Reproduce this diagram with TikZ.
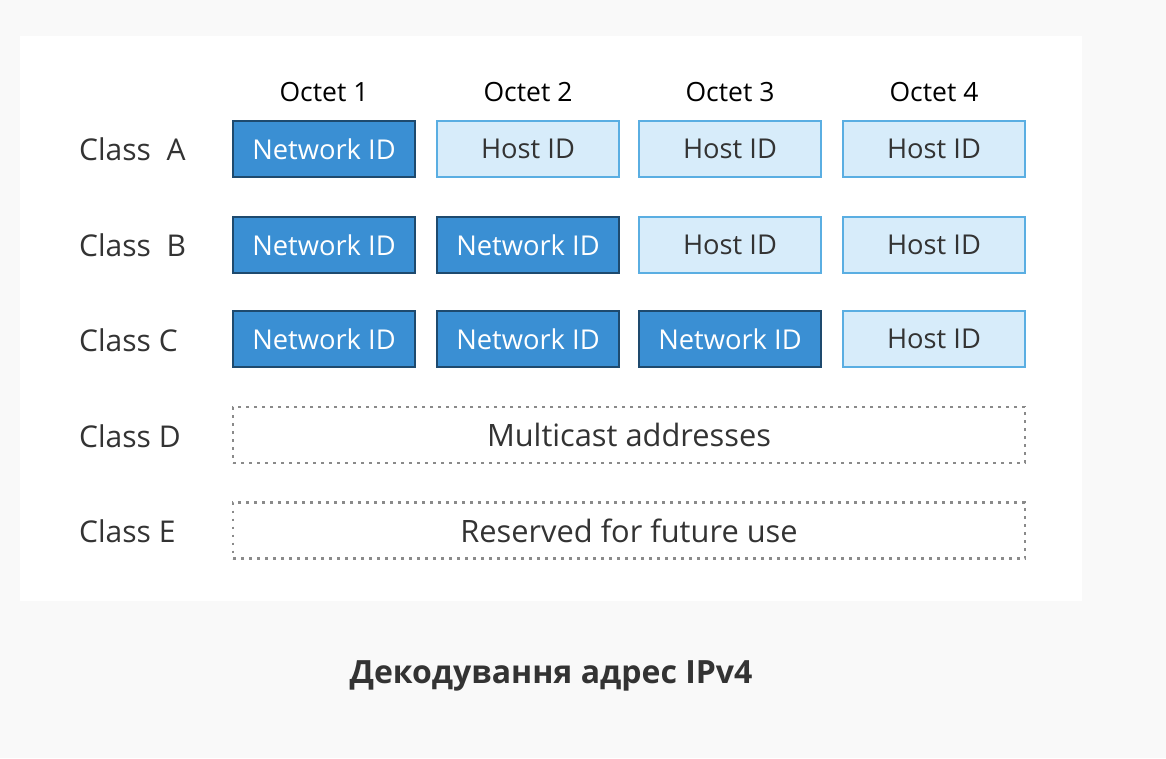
\documentclass[tikz,border=0pt]{standalone}
\usepackage{fontspec}
\setmainfont{Open Sans}
\definecolor{pagebg}{HTML}{F9F9F9}
\definecolor{netfill}{HTML}{3A8FD3}
\definecolor{netdraw}{HTML}{1E4A6E}
\definecolor{hostfill}{HTML}{D7ECFA}
\definecolor{hostdraw}{HTML}{5AAEE2}
\definecolor{txt}{HTML}{333333}
\definecolor{dotc}{HTML}{8A8A8A}
\begin{document}
\begin{tikzpicture}[x=1pt,y=-1pt,
  cell/.style={minimum width=182pt,minimum height=56pt,inner sep=0pt,font=\fontsize{27.3}{32}\selectfont,line width=1.6pt},
  net/.style={cell,fill=netfill,draw=netdraw,text=white},
  host/.style={cell,fill=hostfill,draw=hostdraw,text=txt},
  wide/.style={minimum width=792pt,minimum height=56pt,inner sep=0pt,draw=dotc,line width=2.6pt,dash pattern=on 2.6pt off 5.4pt,text=txt,font=\fontsize{30.8}{36}\selectfont},
  cls/.style={anchor=west,text=txt,font=\fontsize{30}{36}\selectfont,inner sep=0pt},
  oct/.style={text=black,font=\fontsize{26.5}{32}\selectfont,inner sep=0pt}]
\fill[pagebg] (0,0) rectangle (1166,758);
\useasboundingbox (0,0) rectangle (1166,758);
\fill[white] (20,36) rectangle (1082,601);
% octet headers
\node[oct] (o1) at (324,92) {Octet 1};
\node[oct] (o2) at (528,92) {Octet 2};
\node[oct] (o3) at (730,92) {Octet 3};
\node[oct] (o4) at (934,92) {Octet 4};
% class labels
\node[cls] (la) at (79,149) {Class\ \ A};
\node[cls] (lb) at (79,245) {Class\ \ B};
\node[cls] (lc) at (79,340) {Class C};
\node[cls] (ld) at (79,436) {Class D};
\node[cls] (le) at (79,531) {Class E};
% row A
\node[net]  (a1) at (324,149) {Network ID};
\node[host] (a2) at (528,149) {Host ID};
\node[host] (a3) at (730,149) {Host ID};
\node[host] (a4) at (934,149) {Host ID};
% row B
\node[net]  (b1) at (324,245) {Network ID};
\node[net]  (b2) at (528,245) {Network ID};
\node[host] (b3) at (730,245) {Host ID};
\node[host] (b4) at (934,245) {Host ID};
% row C
\node[net]  (c1) at (324,339) {Network ID};
\node[net]  (c2) at (528,339) {Network ID};
\node[net]  (c3) at (730,339) {Network ID};
\node[host] (c4) at (934,339) {Host ID};
% rows D, E
\node[wide] (d) at (629,435) {Multicast addresses};
\node[wide] (e) at (629,530.5) {Reserved for future use};
% caption
\node[text=txt,font=\bfseries\fontsize{32}{38}\selectfont,inner sep=0pt] (cap) at (551,676) {Декодування адрес IPv4};
\end{tikzpicture}
\end{document}
